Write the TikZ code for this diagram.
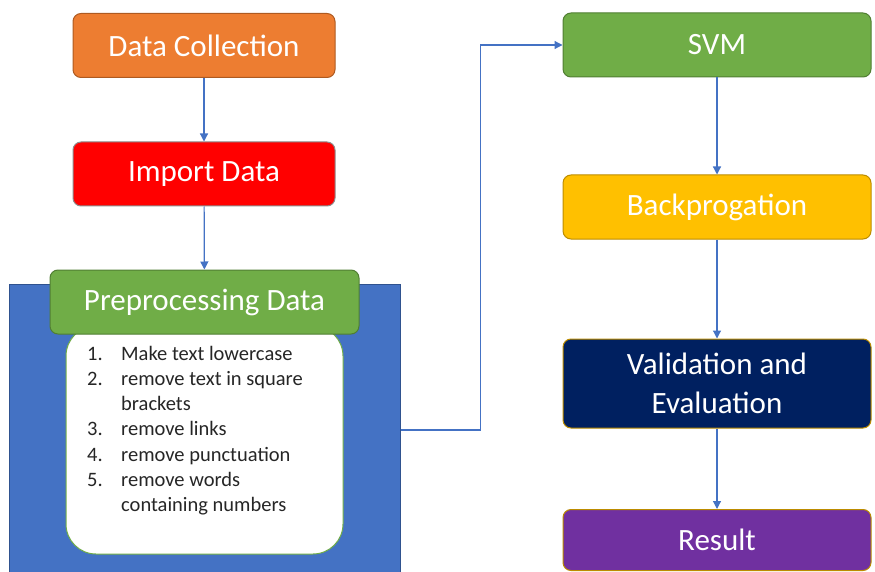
\documentclass[tikz,border=0pt]{standalone}
\usepackage{fontspec}
\setmainfont{Carlito}
\usetikzlibrary{arrows.meta,positioning}
\definecolor{cOrange}{HTML}{ED7D31}
\definecolor{cOrangeD}{HTML}{AE5A21}
\definecolor{cRed}{HTML}{FF0000}
\definecolor{cRedD}{HTML}{8C8C8C}
\definecolor{cBlue}{HTML}{4472C4}
\definecolor{cBlueD}{HTML}{2F528F}
\definecolor{cGreen}{HTML}{70AD47}
\definecolor{cGreenD}{HTML}{507E32}
\definecolor{cGold}{HTML}{FFC000}
\definecolor{cGoldD}{HTML}{BC8C00}
\definecolor{cNavy}{HTML}{002060}
\definecolor{cPurple}{HTML}{7030A0}
\definecolor{cText}{HTML}{262626}
\tikzset{
  stagebox/.style={draw, line width=1pt, rounded corners=8pt, text=white,
    minimum width=262pt, minimum height=64pt, inner sep=0pt, align=center,
    font=\fontsize{31}{39}\selectfont},
  rightbox/.style={stagebox, minimum width=308pt},
  arr/.style={draw=cBlue, line width=1.2pt, -{Triangle[length=8pt,width=8pt]}},
}
\begin{document}
\begin{tikzpicture}[x=1pt,y=-1pt]
\useasboundingbox (0,0) rectangle (875,572);
% left column
\node[stagebox, fill=cOrange, draw=cOrangeD] (dc) at (204,45.5) {Data Collection};
\node[stagebox, fill=cRed, draw=cRedD] (imp) at (204,174) {Import Data};
\node[draw=cBlueD, fill=cBlue, line width=1pt, minimum width=391pt, minimum height=292pt, inner sep=0pt] (blue) at (204.5,430) {};
\node[draw=cGreen, fill=white, line width=1pt, rounded corners=30pt, minimum width=277pt, minimum height=228pt, inner sep=0pt] (list) at (204.5,440) {};
\node[stagebox, fill=cGreen, draw=cGreenD, minimum width=309pt] (pre) at (204.5,302) {Preprocessing Data};
\node[anchor=base west, inner sep=0pt, text=cText, font=\fontsize{20.5}{25.3}\selectfont] (items) at (87,360)
{\begin{tabular}[t]{@{}p{34pt}@{}l@{}}
1. & Make text lowercase\\
2. & remove text in square\\
   & brackets\\
3. & remove links\\
4. & remove punctuation\\
5. & remove words\\
   & containing numbers
\end{tabular}};
% right column
\node[rightbox, fill=cGreen, draw=cGreenD] (svm) at (717,45) {SVM};
\node[rightbox, fill=cGold, draw=cGoldD] (bp) at (717,207) {Backprogation};
\node[rightbox, fill=cNavy, draw=cGoldD, minimum height=89pt] (val) at (717,383.5) {Validation and\\Evaluation};
\node[rightbox, fill=cPurple, draw=cGoldD, minimum height=61pt] (res) at (717,540) {Result};
% connectors
\draw[arr] (dc) -- (imp);
\draw[arr] (imp) -- (pre);
\draw[arr] (blue.east) -- ++(80,0) |- (svm.west);
\draw[arr] (svm) -- (bp);
\draw[arr] (bp) -- (val);
\draw[arr] (val) -- (res);
\end{tikzpicture}
\end{document}
